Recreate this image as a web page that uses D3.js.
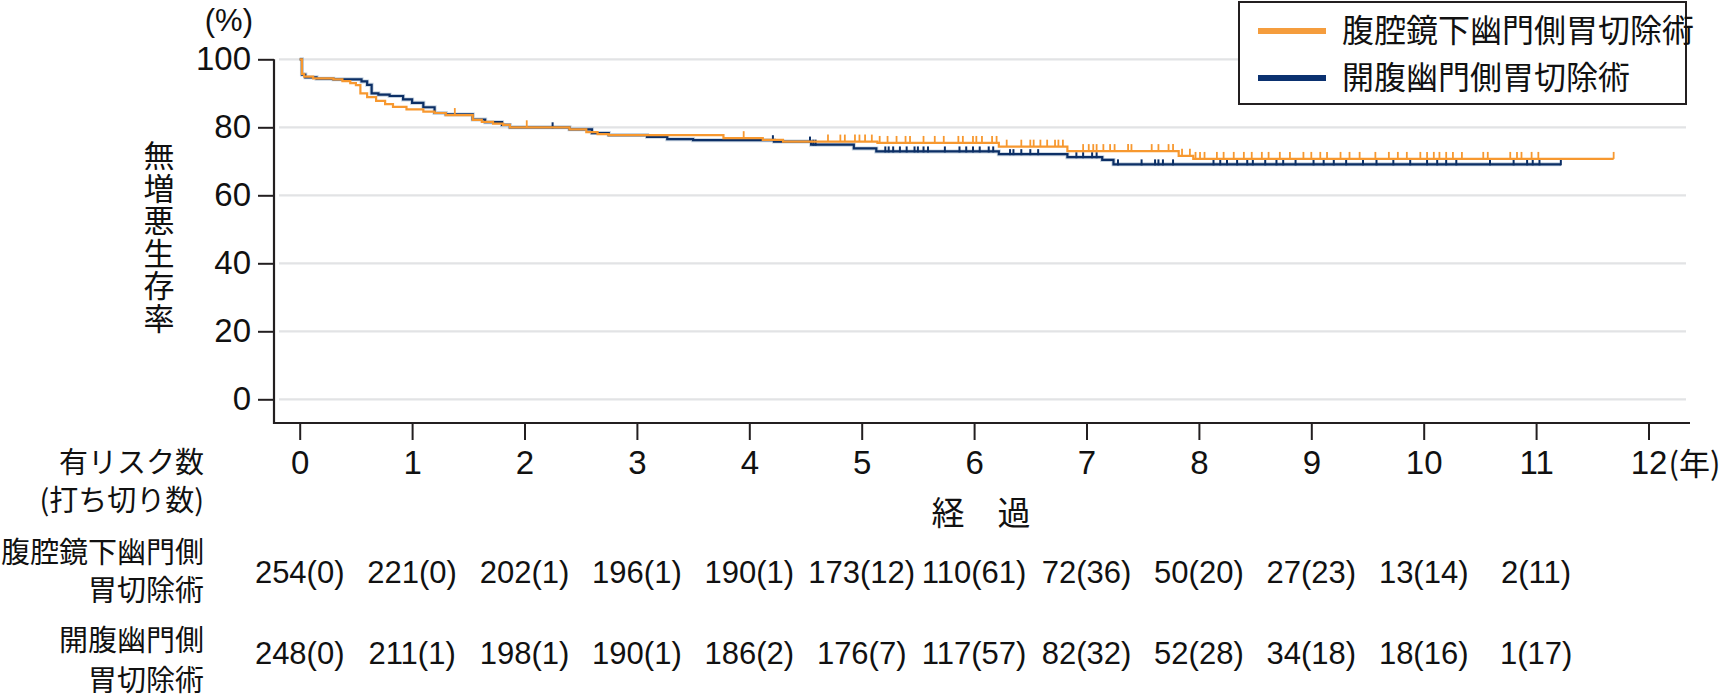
<!DOCTYPE html>
<html>
<head>
<meta charset="utf-8">
<script src="https://cdn.jsdelivr.net/npm/d3@7"></script>
<style>
  body { margin: 0; background: #fff; }
  svg { display: block; }
  .num { font-family: "Liberation Sans", Arial, sans-serif; fill: #111; }
  .jp { font-family: "Noto Sans CJK JP", sans-serif; fill: #111; }
</style>
</head>
<body>
<svg id="chart" width="1736" height="699"></svg>
<script>
// 経過年
var years = [0,1,2,3,4,5,6,7,8,9,10,11,12];
var yTicks = [0,20,40,60,80,100];
var groups = ["腹腔鏡下幽門側胃切除術", "開腹幽門側胃切除術"];

// 生存曲線の段 [年, %]
var lapSteps = [[0,100],[0.02,95.7],[0.04,94.9],[0.12,94.4],[0.3,94.1],[0.38,93.6],[0.45,93.0],[0.5,92.4],
  [0.54,90.0],[0.6,88.9],[0.68,87.8],[0.76,86.8],[0.83,86.0],[0.95,85.3],[1.1,84.6],[1.2,84.2],[1.3,83.6],
  [1.54,82.2],[1.62,81.6],[1.72,81.1],[1.81,80.7],[1.87,80.0],[2.4,79.4],[2.55,78.6],[2.65,78.0],[2.75,77.7],
  [3.77,76.8],[4.12,76.3],[4.3,75.8],[5.14,75.4],[6.22,74.3],[6.83,73.0],[7.82,71.6],[7.95,70.7]];
var lapEnd = 11.69;
var openSteps = [[0,100],[0.02,95.5],[0.05,94.7],[0.15,94.3],[0.3,94.1],[0.55,93.5],[0.6,92.5],[0.64,90.0],
  [0.7,89.6],[0.8,89.2],[0.92,88.2],[1.0,87.2],[1.1,85.9],[1.2,84.2],[1.3,83.8],[1.54,82.3],[1.65,81.5],
  [1.8,80.7],[1.87,80.0],[2.4,79.4],[2.6,78.3],[2.75,77.7],[3.09,77.2],[3.27,76.5],[3.5,76.2],[4.22,75.8],
  [4.55,74.9],[4.93,73.8],[5.13,72.9],[6.22,72.1],[6.83,71.2],[7.14,70.4],[7.24,69.1]];
var openEnd = 11.22;

// 打ち切り (年)
var lapCensor = [1.38,2.02,3.95,4.70,4.81,4.85,4.94,4.98,5.03,5.09,5.16,5.23,5.31,5.39,5.43,5.55,5.65,5.73,
  5.86,5.90,5.99,6.02,6.07,6.16,6.20,6.29,6.42,6.50,6.53,6.59,6.65,6.72,6.75,6.79,6.97,7.02,7.06,7.09,7.15,
  7.21,7.25,7.37,7.40,7.58,7.64,7.73,7.77,7.85,7.92,7.97,8.01,8.05,8.16,8.22,8.31,8.40,8.47,8.56,8.62,8.72,
  8.81,8.93,9.00,9.08,9.14,9.26,9.34,9.43,9.57,9.69,9.77,9.85,9.97,10.03,10.09,10.14,10.20,10.26,10.34,
  10.53,10.57,10.77,10.83,10.87,10.96,11.02,11.69];
var openCensor = [1.54,2.25,4.21,4.54,4.57,4.59,5.21,5.24,5.28,5.34,5.40,5.47,5.50,5.55,5.59,5.74,5.87,5.93,
  5.99,6.05,6.13,6.17,6.32,6.35,6.42,6.50,6.57,6.91,6.97,7.05,7.09,7.28,7.49,7.61,7.64,7.68,7.77,8.13,8.19,
  8.25,8.34,8.43,8.48,8.59,8.69,8.75,8.86,9.02,9.11,9.20,9.31,9.46,9.58,9.73,9.88,10.03,10.12,10.20,10.29,
  10.59,10.80,10.92,10.97,11.03,11.22];

// 有リスク数（打ち切り数）
var lapRisk = ["254(0)","221(0)","202(1)","196(1)","190(1)","173(12)","110(61)","72(36)","50(20)","27(23)","13(14)","2(11)"];
var openRisk = ["248(0)","211(1)","198(1)","190(1)","186(2)","176(7)","117(57)","82(32)","52(28)","34(18)","18(16)","1(17)"];

var ORANGE = "#f7982f", BLUE = "#0c2f66", INK = "#231f20";

var svg = d3.select("#chart");
var x = d3.scaleLinear().domain([0,12]).range([299.7,1648.5]);
var y = d3.scaleLinear().domain([0,100]).range([399.3,59.3]);
var axisLeftX = 274, axisBottomY = 423, plotRight = 1690;

// grid
svg.append("g").selectAll("line").data(yTicks).enter().append("line")
  .attr("x1",279).attr("x2",1686)
  .attr("y1",function(d){return y(d);}).attr("y2",function(d){return y(d);})
  .attr("stroke","#e2e3e5").attr("stroke-width",2.2);

// y axis
var gy = svg.append("g").attr("transform","translate("+axisLeftX+",0)")
  .call(d3.axisLeft(y).tickValues(yTicks).tickSizeInner(16).tickSizeOuter(0).tickPadding(7));
gy.select(".domain").remove();
gy.selectAll(".tick line").attr("stroke",INK).attr("stroke-width",2);
gy.selectAll(".tick text").attr("class","num").attr("font-size",33).attr("fill","#111");

// x axis
var gx = svg.append("g").attr("transform","translate(0,"+axisBottomY+")")
  .call(d3.axisBottom(x).tickValues(years).tickSizeInner(17).tickSizeOuter(0).tickPadding(11));
gx.select(".domain").remove();
gx.selectAll(".tick line").attr("stroke",INK).attr("stroke-width",2);
gx.selectAll(".tick text").attr("class","num").attr("font-size",33).attr("fill","#111");

svg.append("line").attr("x1",axisLeftX).attr("x2",axisLeftX).attr("y1",y(100)).attr("y2",axisBottomY+1)
  .attr("stroke",INK).attr("stroke-width",2.2);
svg.append("line").attr("x1",axisLeftX-1).attr("x2",plotRight).attr("y1",axisBottomY).attr("y2",axisBottomY)
  .attr("stroke",INK).attr("stroke-width",2.2);

svg.append("text").attr("class","jp").attr("font-size",31).attr("x",x(12)+20).attr("y",475).text("(年)");
svg.append("text").attr("class","num").attr("font-size",31).attr("x",253).attr("y",31)
  .attr("text-anchor","end").text("(%)");
svg.append("text").attr("class","jp").attr("font-size",33).attr("x",981).attr("y",525)
  .attr("text-anchor","middle").text("経　過");

// y label (vertical)
svg.append("text").attr("class","jp").attr("font-size",31)
  .attr("x",159).attr("y",140)
  .style("writing-mode","vertical-rl").style("text-orientation","upright")
  .attr("letter-spacing",1.5)
  .text("無増悪生存率");

// curves
function stepPath(steps, end){
  var pts = steps.concat([[end, steps[steps.length-1][1]]]);
  return d3.line().curve(d3.curveStepAfter).x(function(d){return x(d[0]);}).y(function(d){return y(d[1]);})(pts);
}
function survAt(steps, t){
  var i = d3.bisector(function(d){return d[0];}).right(steps, t) - 1;
  return steps[Math.max(0,i)][1];
}

svg.append("path").attr("d",stepPath(openSteps,openEnd)).attr("fill","none")
  .attr("stroke","#7f9cb8").attr("stroke-width",4).attr("stroke-opacity",0.45);
svg.append("path").attr("d",stepPath(openSteps,openEnd)).attr("fill","none")
  .attr("stroke",BLUE).attr("stroke-width",2.2);
svg.append("g").selectAll("line").data(openCensor).enter().append("line")
  .attr("x1",function(d){return x(d);}).attr("x2",function(d){return x(d);})
  .attr("y1",function(d){return y(survAt(openSteps,d))-5;})
  .attr("y2",function(d){return y(survAt(openSteps,d))+1;})
  .attr("stroke",BLUE).attr("stroke-width",2);

svg.append("path").attr("d",stepPath(lapSteps,lapEnd)).attr("fill","none")
  .attr("stroke",ORANGE).attr("stroke-width",2.2);
svg.append("g").selectAll("line").data(lapCensor).enter().append("line")
  .attr("x1",function(d){return x(d);}).attr("x2",function(d){return x(d);})
  .attr("y1",function(d){return y(survAt(lapSteps,d))-7;})
  .attr("y2",function(d){return y(survAt(lapSteps,d));})
  .attr("stroke",ORANGE).attr("stroke-width",1.8);

// legend
var lg = svg.append("g");
lg.append("rect").attr("x",1239).attr("y",2).attr("width",447).attr("height",102)
  .attr("fill","#fff").attr("stroke",INK).attr("stroke-width",2);
[ORANGE, BLUE].forEach(function(c,i){
  var ly = 31 + i*47;
  lg.append("line").attr("x1",1258).attr("x2",1326).attr("y1",ly).attr("y2",ly)
    .attr("stroke", i===0 ? "#f59d3d" : "#0b3170").attr("stroke-width",6);
  lg.append("text").attr("class","jp").attr("font-size",32).attr("x",1342).attr("y",ly+11).text(groups[i]);
});

// risk table
var leftLabels = [["有リスク数",473],["(打ち切り数)",511],["腹腔鏡下幽門側",563],["胃切除術",601],["開腹幽門側",651],["胃切除術",691]];
svg.append("g").selectAll("text").data(leftLabels).enter().append("text")
  .attr("class","jp").attr("font-size",29).attr("text-anchor","end")
  .attr("x",204).attr("y",function(d){return d[1];}).text(function(d){return d[0];});

[[lapRisk,583],[openRisk,664]].forEach(function(r){
  svg.append("g").selectAll("text").data(r[0]).enter().append("text")
    .attr("class","num").attr("font-size",31).attr("text-anchor","middle")
    .attr("x",function(d,i){return x(years[i]);}).attr("y",r[1]).text(function(d){return d;});
});
</script>
</body>
</html>
